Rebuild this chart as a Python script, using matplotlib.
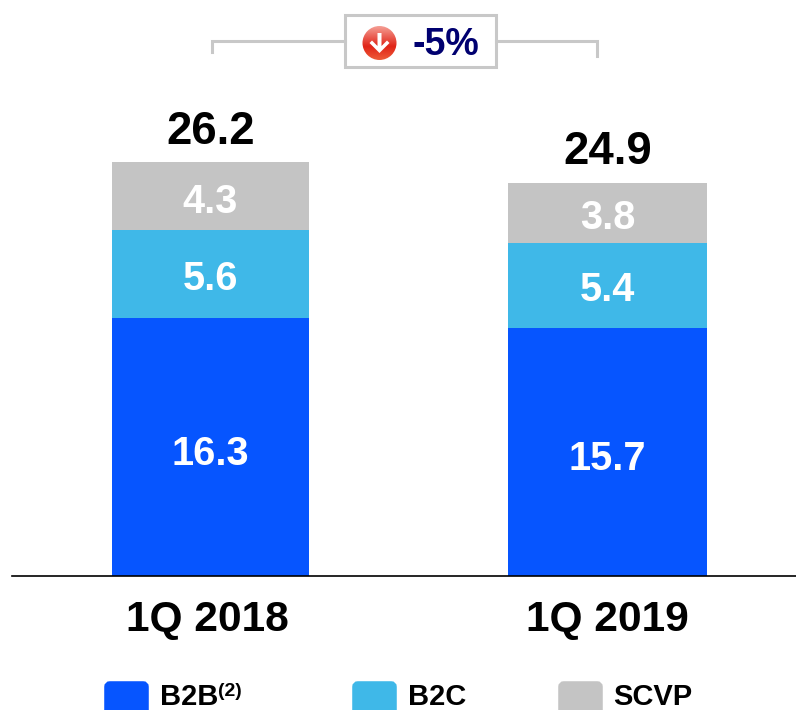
import numpy as np
import matplotlib
matplotlib.use("Agg")
import matplotlib.pyplot as plt
from matplotlib.patches import Rectangle, Circle, FancyBboxPatch, Polygon
from matplotlib.transforms import ScaledTranslation

plt.rcParams['font.family'] = ['Liberation Sans', 'DejaVu Sans']
plt.rcParams['font.weight'] = 'bold'

quarters = ["1Q 2018", "1Q 2019"]
b2b = [16.3, 15.7]
b2c = [5.6, 5.4]
scvp = [4.3, 3.8]
totals = [26.2, 24.9]
change_label = "-5%"

blue = "#0655ff"
light = "#3fb8e8"
grey = "#c4c4c4"

W, H = 796, 710
fig = plt.figure(figsize=(W / 100, H / 100), dpi=100)

# chart axes, baseline sits at y=576px
ax = fig.add_axes([12 / W, (H - 576) / H, (796 - 12) / W, 576 / H])
ax.set_xlim(-0.5, 1.475)
ax.set_ylim(0, 576 / 15.8)
ax.patch.set_alpha(0)

x = np.arange(len(quarters))
b2b = np.array(b2b)
b2c = np.array(b2c)
scvp = np.array(scvp)
bar_w = [0.496, 0.5]
ax.bar(x, b2b, width=bar_w, color=blue)
ax.bar(x, b2c, width=bar_w, bottom=b2b, color=light)
ax.bar(x, scvp, width=bar_w, bottom=b2b + b2c, color=grey)

for i in x:
    ax.text(i, b2b[i] / 2 - 0.45, f"{b2b[i]:.1f}", ha='center', va='center', color='white', fontsize=28.6)
    ax.text(i, b2b[i] + b2c[i] / 2 - 0.3, f"{b2c[i]:.1f}", ha='center', va='center', color='white', fontsize=28.6)
    ax.text(i, b2b[i] + b2c[i] + scvp[i] / 2 - 0.35, f"{scvp[i]:.1f}", ha='center', va='center', color='white', fontsize=28.6)
    ax.text(i, totals[i] + 0.52, f"{totals[i]:.1f}", ha='center', va='bottom', color='black', fontsize=32.8)

for s in ['top', 'left', 'right']:
    ax.spines[s].set_visible(False)
ax.spines['bottom'].set_linewidth(1.2)
ax.spines['bottom'].set_color('black')
ax.set_yticks([])
ax.set_xticks(x)
ax.set_xticklabels(quarters, fontsize=30.6, color='black')
ax.tick_params(axis='x', length=0, pad=17.5)
# first label sits a little left of its bar in the original
lab = ax.get_xticklabels()[0]
lab.set_transform(lab.get_transform() + ScaledTranslation(-3.5 / 100, 0, fig.dpi_scale_trans))

# overlay in pixel coordinates for the bracket, badge and legend
ov = fig.add_axes([0, 0, 1, 1])
ov.set_xlim(0, W)
ov.set_ylim(H, 0)
ov.axis('off')
ov.patch.set_alpha(0)

ov.plot([212, 212, 345], [52, 41, 41], color="#c8c8c8", lw=2.2, solid_joinstyle='miter')
ov.plot([496, 597, 597], [41, 41, 56], color="#c8c8c8", lw=2.2, solid_joinstyle='miter')
ov.add_patch(Rectangle((345, 15), 151, 52, fc='white', ec="#c8c8c8", lw=2.2))

# red arrow icon with vertical gradient
grad = np.linspace(0, 1, 64).reshape(-1, 1)
top = np.array([0.96, 0.62, 0.58])
mid = np.array([0.88, 0.14, 0.09])
bot = np.array([0.93, 0.36, 0.22])
rows = np.where(grad < 0.6, top + (mid - top) * (grad / 0.6), mid + (bot - mid) * ((grad - 0.6) / 0.4))
im = ov.imshow(rows[:, None, :].reshape(64, 1, 3), extent=(362, 397, 60, 26), aspect='auto', zorder=3)
ov.set_xlim(0, W)
ov.set_ylim(H, 0)
im.set_clip_path(Circle((379.5, 43), 17, transform=ov.transData))
ov.add_patch(Polygon([[377.5, 33], [381.5, 33], [381.5, 46], [387, 40.5], [389.5, 43], [379.5, 53], [369.5, 43], [372, 40.5], [377.5, 46]],
                     fc='white', ec='none', zorder=4))
ov.text(412, 45, change_label, ha='left', va='center', color="#000070", fontsize=27)

legend_names = ["B2B", "B2C", "SCVP"]
legend_colors = [blue, light, grey]
legend_x = [104, 352, 558]
for name, col, lx in zip(legend_names, legend_colors, legend_x):
    ov.add_patch(FancyBboxPatch((lx + 3, 684), 39, 30, boxstyle="round,pad=0,rounding_size=3",
                                mutation_aspect=1, fc=col, ec=col, lw=4, clip_on=True))
    ov.text(lx + 55.5, 697, name, ha='left', va='center', color='black', fontsize=21)
ov.text(218, 692, "(2)", ha='left', va='center', color='black', fontsize=14)

fig.savefig("out.png", dpi=100)
